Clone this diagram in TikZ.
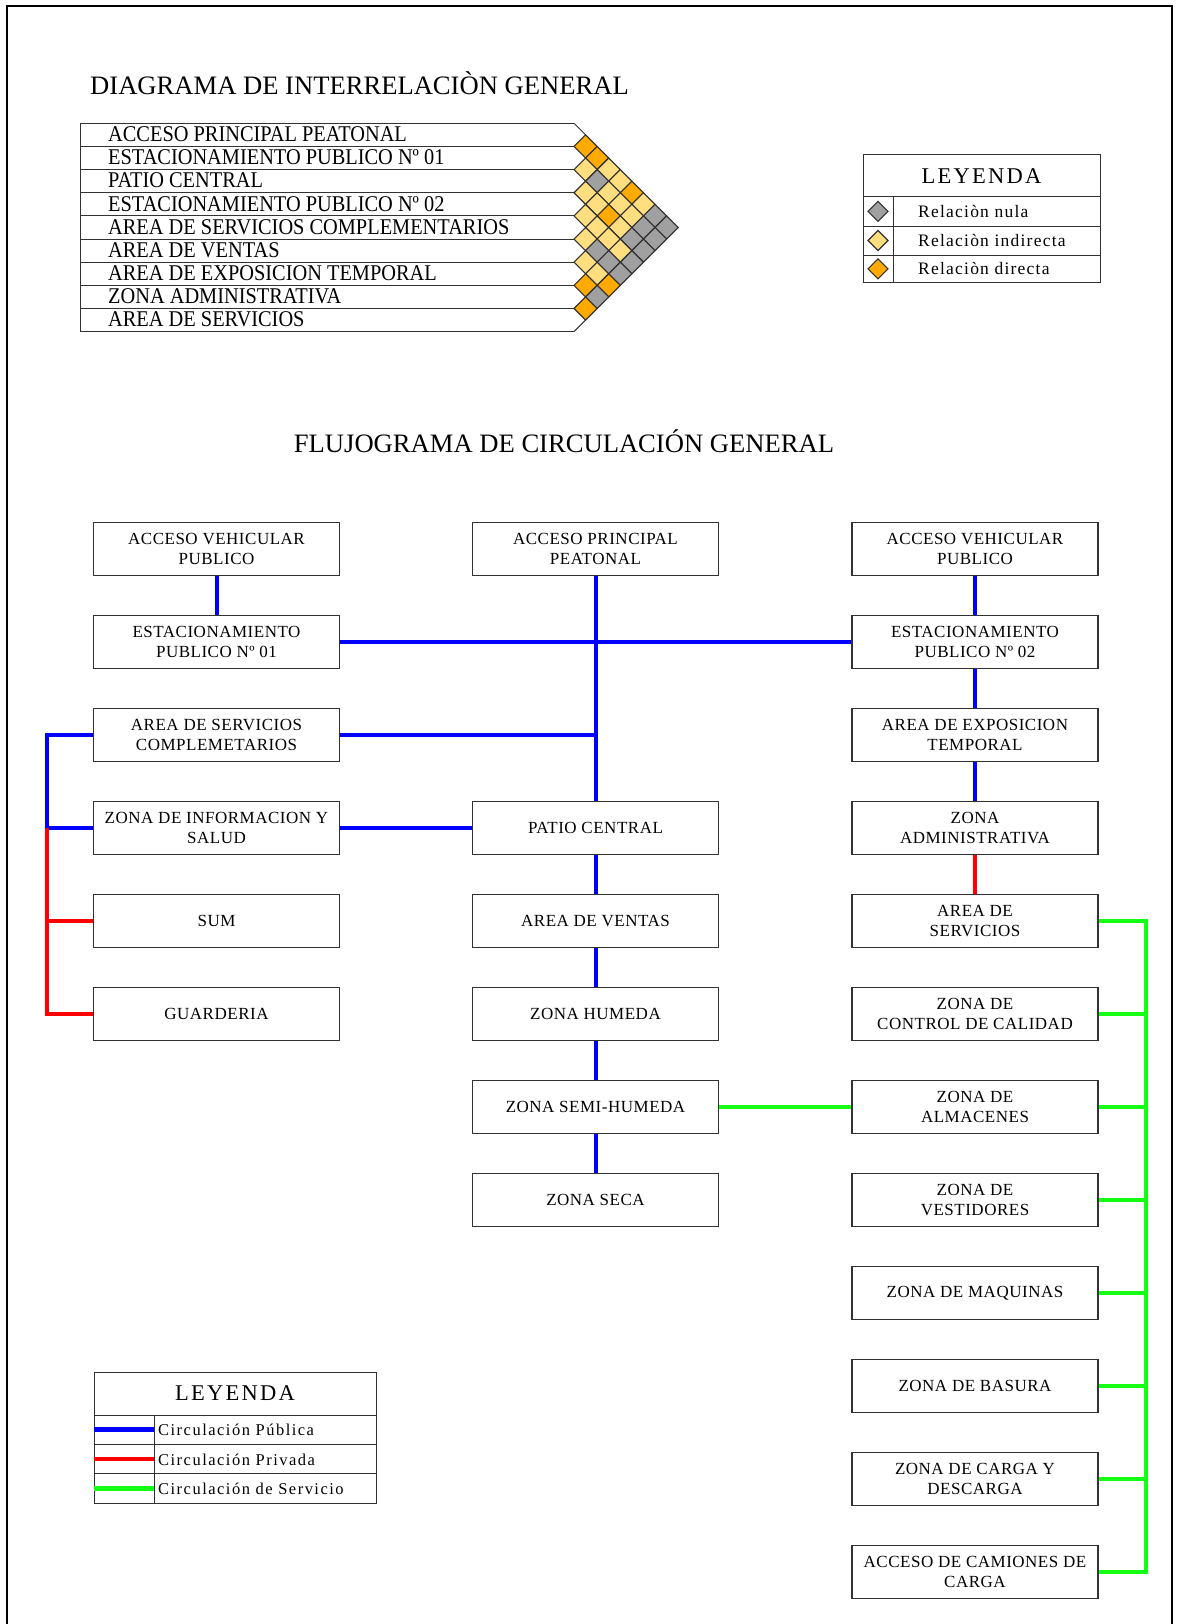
\documentclass[tikz,border=0pt]{standalone}
\usepackage{fontspec}
\setmainfont{Liberation Serif}
\newfontfamily\boxfam[LetterSpace=3]{Liberation Serif}
\newfontfamily\legfam[LetterSpace=7]{Liberation Serif}
\newfontfamily\legbfam[LetterSpace=9]{Liberation Serif}
\newfontfamily\leytitfam[LetterSpace=10]{Liberation Serif}
\newfontfamily\matfam[FakeStretch=0.905]{Liberation Serif}
\definecolor{cOr}{RGB}{255,170,0}
\definecolor{cYe}{RGB}{255,222,128}
\definecolor{cGr}{RGB}{160,160,160}
\definecolor{cBl}{RGB}{0,0,255}
\definecolor{cRd}{RGB}{255,0,0}
\definecolor{cGn}{RGB}{20,255,20}
\definecolor{cLn}{RGB}{50,50,50}
\tikzset{
  fbox/.style={draw=cLn,line width=1.3pt,minimum width=246pt,minimum height=53.5pt,
    align=center,inner sep=0pt,font=\boxfam\fontsize{17}{19.5}\selectfont},
  mtext/.style={anchor=base west,inner sep=0pt,font=\matfam\fontsize{22.5}{24}\selectfont},
  ttl/.style={anchor=base west,inner sep=0pt,font=\fontsize{26.6}{30}\selectfont},
  lgtxt/.style={anchor=base west,inner sep=0pt,font=\legfam\fontsize{17.5}{20}\selectfont},
  lgbtxt/.style={anchor=base west,inner sep=0pt,font=\legbfam\fontsize{16.5}{20}\selectfont},
  leyt/.style={anchor=base,inner sep=0pt,font=\leytitfam\fontsize{22.5}{26}\selectfont},
  thin/.style={draw=cLn,line width=1pt},
  dia/.style={draw=cLn,line width=1.1pt},
  pub/.style={cBl,line width=4pt},
  priv/.style={cRd,line width=4pt},
  serv/.style={cGn,line width=4pt},
}
\begin{document}
\begin{tikzpicture}[x=1pt,y=-1pt]
\useasboundingbox (0,0) rectangle (1176,1624);
% frame
\draw[line width=2pt,black] (6.5,1630) -- (6.5,6) -- (1172,6) -- (1172,1630);

% ---------- interrelation diagram ----------
\node[ttl] (t1) at (90,95) {DIAGRAMA DE INTERRELACIÒN GENERAL};
\foreach \k in {0,...,9}{
  \draw[thin] (80,{123.3+\k*23.15}) -- (574,{123.3+\k*23.15});
}
\draw[thin] (80,123.3) -- (80,331.65);
\draw[thin] (574,123.3) -- (678.2,227.5) -- (574,331.65);
\foreach \lab [count=\i from 0] in {ACCESO PRINCIPAL PEATONAL,ESTACIONAMIENTO PUBLICO Nº 01,PATIO CENTRAL,ESTACIONAMIENTO PUBLICO Nº 02,AREA DE SERVICIOS COMPLEMENTARIOS,AREA DE VENTAS,AREA DE EXPOSICION TEMPORAL,ZONA ADMINISTRATIVA,AREA DE SERVICIOS}{
  \node[mtext] (m\i) at (108,{123.3+\i*23.15+18.3}) {\lab};
}
\foreach \i/\j/\c in {0/1/cOr,0/2/cOr,0/3/cYe,0/4/cYe,0/5/cOr,0/6/cYe,0/7/cGr,0/8/cGr,
  1/2/cYe,1/3/cGr,1/4/cYe,1/5/cYe,1/6/cYe,1/7/cGr,1/8/cGr,
  2/3/cYe,2/4/cYe,2/5/cOr,2/6/cYe,2/7/cGr,2/8/cGr,
  3/4/cYe,3/5/cYe,3/6/cYe,3/7/cYe,3/8/cGr,
  4/5/cYe,4/6/cGr,4/7/cGr,4/8/cGr,
  5/6/cYe,5/7/cYe,5/8/cOr,
  6/7/cOr,6/8/cGr,
  7/8/cOr}{
  \pgfmathsetmacro\cx{574+11.575*(\j-\i)}
  \pgfmathsetmacro\cy{123.3+11.575*(\i+\j+1)}
  \draw[dia,fill=\c] (\cx-11.575,\cy) -- (\cx,\cy-11.575) -- (\cx+11.575,\cy) -- (\cx,\cy+11.575) -- cycle;
}

% ---------- legend (top) ----------
\draw[thin] (863,154.3) rectangle (1100,282.7);
\draw[thin] (863,196.7) -- (1100,196.7);
\draw[thin] (863,226) -- (1100,226);
\draw[thin] (863,255) -- (1100,255);
\draw[thin] (893.3,196.7) -- (893.3,282.7);
\node[leyt] (ley1) at (981.5,183.3) {LEYENDA};
\foreach \yy/\c/\t [count=\n] in {211.3/cGr/Relaciòn nula,240.5/cYe/Relaciòn indirecta,268.8/cOr/Relaciòn directa}{
  \draw[dia,fill=\c] (868,\yy) -- (878,\yy-10) -- (888,\yy) -- (878,\yy+10) -- cycle;
  \node[lgtxt] (lr\n) at (918,\yy+6) {\t};
}

% ---------- flowchart ----------
\node[ttl,anchor=base] (t2) at (564,452) {FLUJOGRAMA DE CIRCULACIÓN GENERAL};
\def\xl{216.5}\def\xm{595.5}\def\xr{975}
% row k centre: 549 + 93 (k-1)
\node[fbox] (lav)  at (\xl,549)   {ACCESO VEHICULAR\\PUBLICO};
\node[fbox] (app)  at (\xm,549)   {ACCESO PRINCIPAL\\PEATONAL};
\node[fbox] (rav)  at (\xr,549)   {ACCESO VEHICULAR\\PUBLICO};
\node[fbox] (le1)  at (\xl,642)   {ESTACIONAMIENTO\\PUBLICO Nº 01};
\node[fbox] (re2)  at (\xr,642)   {ESTACIONAMIENTO\\PUBLICO Nº 02};
\node[fbox] (lasc) at (\xl,735)   {AREA DE SERVICIOS\\COMPLEMETARIOS};
\node[fbox] (raet) at (\xr,735)   {AREA DE EXPOSICION\\TEMPORAL};
\node[fbox] (lzis) at (\xl,828)   {ZONA DE INFORMACION Y\\SALUD};
\node[fbox] (pc)   at (\xm,828)   {PATIO CENTRAL};
\node[fbox] (rza)  at (\xr,828)   {ZONA\\ADMINISTRATIVA};
\node[fbox] (sum)  at (\xl,921)   {SUM};
\node[fbox] (av)   at (\xm,921)   {AREA DE VENTAS};
\node[fbox] (ras)  at (\xr,921)   {AREA DE\\SERVICIOS};
\node[fbox] (gua)  at (\xl,1014)  {GUARDERIA};
\node[fbox] (zh)   at (\xm,1014)  {ZONA HUMEDA};
\node[fbox] (zcc)  at (\xr,1014)  {ZONA DE\\CONTROL DE CALIDAD};
\node[fbox] (zsh)  at (\xm,1107)  {ZONA SEMI-HUMEDA};
\node[fbox] (zal)  at (\xr,1107)  {ZONA DE\\ALMACENES};
\node[fbox] (zs)   at (\xm,1200)  {ZONA SECA};
\node[fbox] (zve)  at (\xr,1200)  {ZONA DE\\VESTIDORES};
\node[fbox] (zma)  at (\xr,1293)  {ZONA DE MAQUINAS};
\node[fbox] (zba)  at (\xr,1386)  {ZONA DE BASURA};
\node[fbox] (zcd)  at (\xr,1479)  {ZONA DE CARGA Y\\DESCARGA};
\node[fbox] (acc)  at (\xr,1572)  {ACCESO DE CAMIONES DE\\CARGA};

\coordinate (lbus) at (46.5,0);
\coordinate (gbus) at (1146,0);

% public circulation
\draw[pub] (lav.south) -- (le1.north);
\draw[pub] (rav.south) -- (re2.north);
\draw[pub] (le1.east) -- (re2.west);
\draw[pub] (app.south) -- (pc.north);
\draw[pub] (lasc.east) -- (lasc.east -| app.south);
\draw[pub] (lzis.east) -- (pc.west);
\draw[pub] (lasc.west) -- (lasc.west -| lbus) -- (lzis.west -| lbus) -- (lzis.west);
\draw[pub] (re2.south) -- (raet.north);
\draw[pub] (raet.south) -- (rza.north);
\draw[pub] (pc.south) -- (av.north);
\draw[pub] (av.south) -- (zh.north);
\draw[pub] (zh.south) -- (zsh.north);
\draw[pub] (zsh.south) -- (zs.north);
% private circulation
\draw[priv] (lzis.west -| lbus) -- (gua.west -| lbus) -- (gua.west);
\draw[priv] (sum.west -| lbus) -- (sum.west);
\draw[priv] (rza.south) -- (ras.north);
% service circulation
\draw[serv] (zsh.east) -- (zal.west);
\draw[serv] (ras.east) -- (ras.east -| gbus) -- (acc.east -| gbus) -- (acc.east);
\foreach \b in {zcc,zal,zve,zma,zba,zcd}{
  \draw[serv] (\b.east) -- (\b.east -| gbus);
}

% ---------- legend (bottom) ----------
\draw[thin] (94,1372.3) rectangle (376.7,1503.2);
\draw[thin] (94,1415) -- (376.7,1415);
\draw[thin] (94,1444.4) -- (376.7,1444.4);
\draw[thin] (94,1473.8) -- (376.7,1473.8);
\draw[thin] (154,1415) -- (154,1503.2);
\node[leyt] (ley2) at (235,1400) {LEYENDA};
\draw[pub,line width=4.5pt] (94,1429.7) -- (154,1429.7);
\draw[priv,line width=4.5pt] (94,1459.1) -- (154,1459.1);
\draw[serv,line width=4.5pt] (94,1488.5) -- (154,1488.5);
\node[lgbtxt] (lc1) at (158,1435.7) {Circulación Pública};
\node[lgbtxt] (lc2) at (158,1465.1) {Circulación Privada};
\node[lgbtxt] (lc3) at (158,1494.5) {Circulación de Servicio};
\end{tikzpicture}
\end{document}
